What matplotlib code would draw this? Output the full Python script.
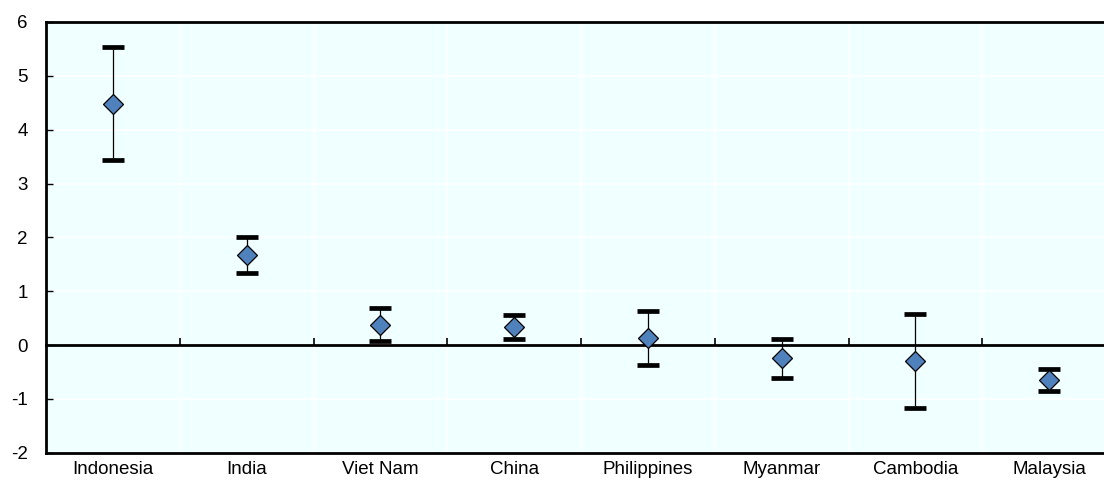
import matplotlib
matplotlib.use("Agg")
import matplotlib.pyplot as plt
import numpy as np

countries = ["Indonesia", "India", "Viet Nam", "China", "Philippines",
             "Myanmar", "Cambodia", "Malaysia"]
estimate = [4.48, 1.67, 0.38, 0.34, 0.13, -0.25, -0.29, -0.65]
upper = [5.54, 2.00, 0.69, 0.56, 0.63, 0.11, 0.58, -0.44]
lower = [3.43, 1.34, 0.07, 0.11, -0.38, -0.61, -1.17, -0.86]
y_ticks = [-2, -1, 0, 1, 2, 3, 4, 5, 6]

plt.rcParams["font.family"] = ["Liberation Sans", "DejaVu Sans"]

W, H = 1104, 482
fig = plt.figure(figsize=(W / 100, H / 100), dpi=100)
ax = fig.add_axes([46 / W, 1 - 452.7 / H, (1116 - 46) / W, (452.7 - 22) / H])
ax.set_facecolor("#F0FFFF")

x = np.arange(len(countries))
est = np.array(estimate)
err = np.vstack([est - np.array(lower), np.array(upper) - est])

# range bars with heavy caps
ax.errorbar(x, est, yerr=err, fmt="none", ecolor="black",
            elinewidth=0.9, capsize=7.8, capthick=3.4, zorder=4)
# point estimates
ax.plot(x, est, linestyle="none", marker="D", markersize=10.5,
        markerfacecolor="#4F81BD", markeredgecolor="black",
        markeredgewidth=0.9, zorder=5)

ax.set_xlim(-0.5, len(countries) - 0.5)
ax.set_ylim(-2, 6)

ax.set_yticks(y_ticks)
ax.set_yticklabels([str(v) for v in y_ticks])
ax.tick_params(axis="y", direction="in", length=5, width=1, pad=13,
               labelsize=13.5, colors="black")

ax.set_xticks(x)
ax.set_xticklabels(countries)
ax.tick_params(axis="x", length=0, pad=6, labelsize=13.5)

# white grid: horizontal at each unit, vertical at category boundaries
for v in y_ticks:
    ax.axhline(v, color="white", lw=1.2, zorder=1)
for b in np.arange(0.5, len(countries) - 0.5, 1.0):
    ax.axvline(b, color="white", lw=1.2, zorder=1)

for side in ["left", "bottom", "top"]:
    ax.spines[side].set_linewidth(2)
    ax.spines[side].set_color("black")
ax.spines["right"].set_visible(False)

# zero line carrying the category boundary ticks
zero = ax.secondary_xaxis((0 - (-2)) / 8)
zero.set_xticks(np.arange(0.5, len(countries) - 0.5, 1.0))
zero.set_xticklabels([])
zero.tick_params(direction="in", length=5, width=1.2)
zero.spines["bottom"].set_linewidth(2)
zero.set_zorder(3)

fig.savefig("out.png", dpi=100)
